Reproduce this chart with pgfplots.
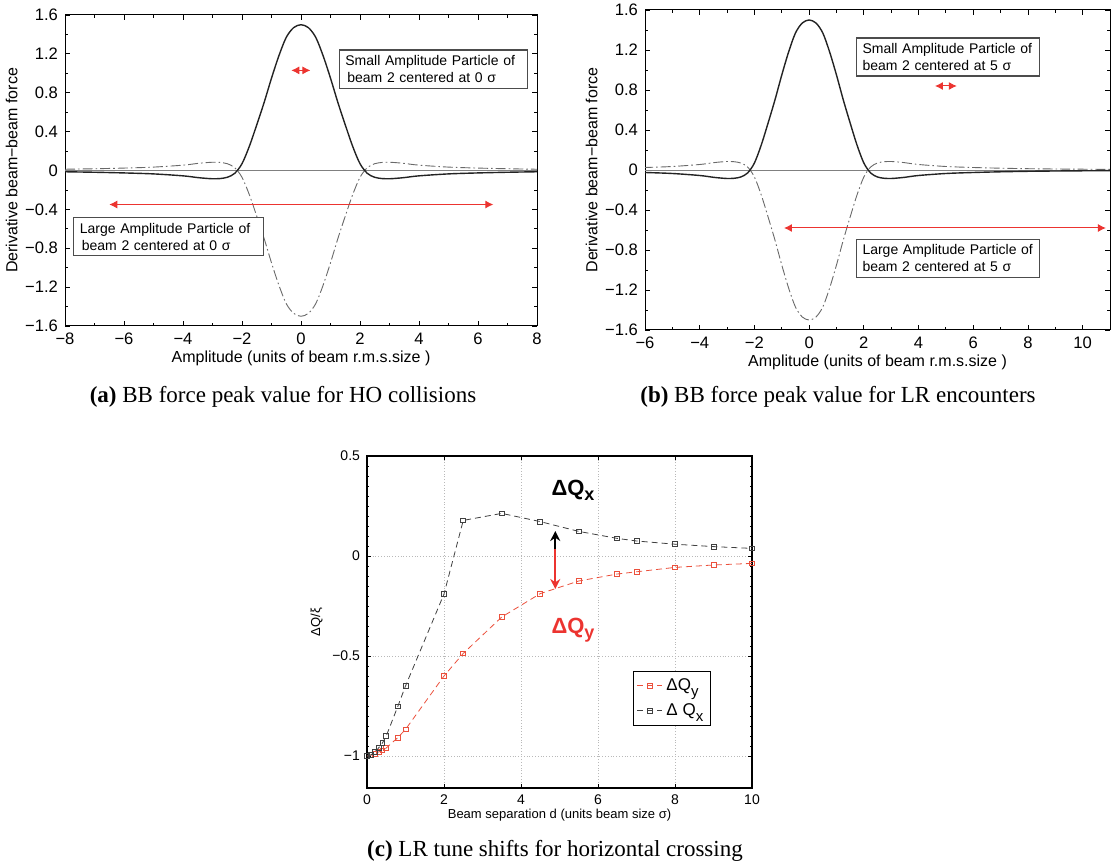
\documentclass[border=0pt]{standalone}
\usepackage{fontspec}
\setmainfont{Liberation Serif}
\newfontfamily\plotfont{Liberation Sans}
\usepackage{pgfplots}
\usepackage{pgfplotstable}
\pgfplotsset{compat=1.18}
\usetikzlibrary{arrows.meta}
\definecolor{cRed}{RGB}{236,52,48}
\definecolor{cLine}{RGB}{35,35,35}
\definecolor{cDash}{RGB}{105,105,105}
\definecolor{cQy}{RGB}{235,80,60}

\newcommand{\sub}[2]{\raisebox{#1}{\fontsize{#2}{#2}\selectfont}}

% derivative of the beam-beam force (a) and (b)
\pgfplotstableread{
x      s       d
-8    -0.013   0.013
-7    -0.018   0.018
-6    -0.025   0.025
-5    -0.035   0.035
-4    -0.055   0.055
-3.5  -0.073   0.073
-3.25 -0.080   0.080
-3.0  -0.085   0.085
-2.75 -0.083   0.083
-2.5  -0.070   0.070
-2.25 -0.030   0.030
-2.0   0.070  -0.070
-1.75  0.250  -0.250
-1.5   0.470  -0.470
-1.25  0.700  -0.700
-1.0   0.950  -0.950
-0.75  1.180  -1.180
-0.5   1.370  -1.370
-0.25  1.470  -1.470
0      1.500  -1.500
0.25   1.470  -1.470
0.5    1.370  -1.370
0.75   1.180  -1.180
1.0    0.950  -0.950
1.25   0.700  -0.700
1.5    0.470  -0.470
1.75   0.250  -0.250
2.0    0.070  -0.070
2.25  -0.030   0.030
2.5   -0.070   0.070
2.75  -0.083   0.083
3.0   -0.085   0.085
3.25  -0.080   0.080
3.5   -0.073   0.073
4     -0.055   0.055
5     -0.035   0.035
6     -0.025   0.025
7     -0.018   0.018
8     -0.013   0.013
9     -0.010   0.010
10    -0.008   0.008
11    -0.006   0.006
}\bbforce

\pgfplotstableread{
x    qy      qx
0    -1.000  -1.000
0.1  -0.995  -0.995
0.2  -0.990  -0.980
0.3  -0.980  -0.960
0.4  -0.972  -0.935
0.5  -0.960  -0.900
0.8  -0.908  -0.752
1.0  -0.867  -0.650
2.0  -0.600  -0.190
2.5  -0.487   0.178
3.5  -0.305   0.213
4.5  -0.188   0.172
5.5  -0.125   0.123
6.5  -0.090   0.088
7    -0.079   0.075
8    -0.057   0.059
9    -0.045   0.047
10   -0.037   0.038
}\tuneshift

\pgfplotsset{
  bb/.style={
    scale only axis, anchor=south west,
    ymin=-1.6, ymax=1.6,
    ytick={-1.6,-1.2,-0.8,-0.4,0,0.4,0.8,1.2,1.6},
    yticklabels={−1.6,−1.2,−0.8,−0.4,0,0.4,0.8,1.2,1.6},
    minor x tick num=1, minor y tick num=1,
    tick align=inside, xtick pos=both, ytick pos=both,
    major tick length=2.5pt, minor tick length=1.5pt,
    axis line style={line width=0.5pt},
    tick style={line width=0.4pt, black},
    tick label style={font=\plotfont\fontsize{8.3}{9}\selectfont},
    label style={font=\plotfont\fontsize{8}{9}\selectfont},
    xlabel={Amplitude (units of beam r.m.s.size )},
    ylabel={Derivative beam−beam force},
    xlabel style={yshift=4pt},
    ylabel style={yshift=-3pt},
  },
  solidc/.style={cLine, line width=0.7pt, smooth},
  dashc/.style={cDash, line width=0.45pt, smooth, dash pattern=on 5pt off 1.5pt on 0.8pt off 1.5pt},
}
\tikzset{
  bbbox/.style={draw=black!70, line width=0.6pt, fill=white, anchor=north west, align=left,
    inner xsep=3pt, inner ysep=1pt, minimum height=19pt,
    font=\plotfont\fontsize{7}{8.7}\selectfont},
  redarrow/.style={cRed, line width=0.5pt, {Latex[length=4pt,width=4pt]}-{Latex[length=4pt,width=4pt]}},
}

\begin{document}
\begin{tikzpicture}
\useasboundingbox (0,0) rectangle (556pt,-432.5pt);

% (a)
\begin{axis}[bb, at={(32.5pt,-163pt)}, width=236pt, height=155.5pt,
  xmin=-8, xmax=8, xtick={-8,-6,-4,-2,0,2,4,6,8},
  xticklabels={−8,−6,−4,−2,0,2,4,6,8}]
\addplot[gray, line width=0.4pt] coordinates {(-8,0) (8,0)};
\addplot[dashc] table[x=x, y=d] {\bbforce};
\addplot[solidc] table[x=x, y=s] {\bbforce};
\draw[redarrow] (axis cs:-0.33,1.03) -- (axis cs:0.32,1.03);
\draw[redarrow] (axis cs:-6.5,-0.35) -- (axis cs:6.52,-0.35);
\node[bbbox, text width=88pt] at (axis cs:1.28,1.245) {Small Amplitude Particle of\\\hspace{1pt}beam 2 centered at 0 σ};
\node[bbbox, text width=89pt] at (axis cs:-7.72,-0.48) {Large Amplitude Particle of\\\hspace{1pt}beam 2 centered at 0 σ};
\end{axis}

% (b)
\begin{axis}[bb, at={(322.5pt,-165pt)}, width=232.5pt, height=160pt,
  xmin=-6, xmax=11, xtick={-6,-4,-2,0,2,4,6,8,10},
  xticklabels={−6,−4,−2,0,2,4,6,8,10}]
\addplot[gray, line width=0.4pt] coordinates {(-6,0) (11,0)};
\addplot[dashc] table[x=x, y=d] {\bbforce};
\addplot[solidc] table[x=x, y=s] {\bbforce};
\draw[redarrow] (axis cs:4.6,0.84) -- (axis cs:5.4,0.84);
\draw[redarrow] (axis cs:-0.92,-0.58) -- (axis cs:10.85,-0.58);
\node[bbbox, text width=85.5pt] at (axis cs:1.71,1.325) {Small Amplitude Particle of\\beam 2 centered at 5 σ};
\node[bbbox, text width=85.5pt] at (axis cs:1.71,-0.686) {Large Amplitude Particle of\\beam 2 centered at 5 σ};
\end{axis}

% (c)
\begin{axis}[scale only axis, anchor=south west, at={(183.5pt,-394pt)},
  width=192.5pt, height=166pt,
  xmin=0, xmax=10, ymin=-1.16, ymax=0.5,
  xtick={0,2,4,6,8,10}, xticklabels={0,2,4,6,8,10},
  ytick={-1,-0.5,0,0.5}, yticklabels={−1,−0.5,0,0.5},
  minor y tick num=9, tick align=inside, xtick pos=both, ytick pos=both,
  major tick length=2pt, minor tick length=1.2pt,
  grid=major, grid style={densely dotted, gray!55, line width=0.4pt},
  axis line style={line width=0.6pt},
  tick style={line width=0.35pt, black},
  tick label style={font=\plotfont\fontsize{7}{8}\selectfont},
  label style={font=\plotfont\fontsize{6.5}{8}\selectfont},
  xlabel={Beam separation d (units beam size σ)},
  ylabel={ΔQ/ξ},
  xlabel style={yshift=5pt}, ylabel style={yshift=-2pt},
  legend style={at={(0.691,0.353)}, anchor=north west, draw=black, line width=0.6pt,
    font=\plotfont\fontsize{8.5}{9}\selectfont, inner sep=1.5pt, row sep=1pt},
  legend cell align=left,
  legend image code/.code={\draw[mark repeat=2, mark phase=2] plot coordinates {(0cm,0cm) (0.22cm,0cm) (0.44cm,0cm)};},
]
\addplot[cQy, densely dashed, line width=0.4pt, mark=square, mark size=1.2pt,
  mark options={solid}] table[x=x, y=qy] {\tuneshift};
\addlegendentry{ΔQ\raisebox{-0.7ex}{\fontsize{7.5}{7.5}\selectfont y}}
\addplot[black!75, densely dashed, line width=0.4pt, mark=square, mark size=1.2pt,
  mark options={solid}] table[x=x, y=qx] {\tuneshift};
\addlegendentry{Δ Q\raisebox{-0.7ex}{\fontsize{7.5}{7.5}\selectfont x}}
\draw[black, line width=1.2pt, -{Stealth[length=5pt,width=5pt]}] (axis cs:4.89,0.03) -- (axis cs:4.89,0.125);
\draw[cRed, line width=1.2pt, -{Stealth[length=5pt,width=5pt]}] (axis cs:4.89,0.035) -- (axis cs:4.89,-0.165);
\node[font=\plotfont\bfseries\fontsize{11}{12}\selectfont] at (axis cs:5.35,0.33) {ΔQ\raisebox{-0.4ex}{\fontsize{9}{9}\selectfont x}};
\node[cRed, font=\plotfont\bfseries\fontsize{11}{12}\selectfont] at (axis cs:5.35,-0.37) {ΔQ\raisebox{-0.4ex}{\fontsize{9}{9}\selectfont y}};
\end{axis}

% captions
\node[font=\fontsize{11.5}{13}\selectfont] at (141.5pt,-198.5pt) {\textbf{(a)} BB force peak value for HO collisions};
\node[font=\fontsize{11.5}{13}\selectfont] at (419pt,-198.5pt) {\textbf{(b)} BB force peak value for LR encounters};
\node[font=\fontsize{11.5}{13}\selectfont] at (277.5pt,-425.5pt) {\textbf{(c)} LR tune shifts for horizontal crossing};
\end{tikzpicture}
\end{document}
